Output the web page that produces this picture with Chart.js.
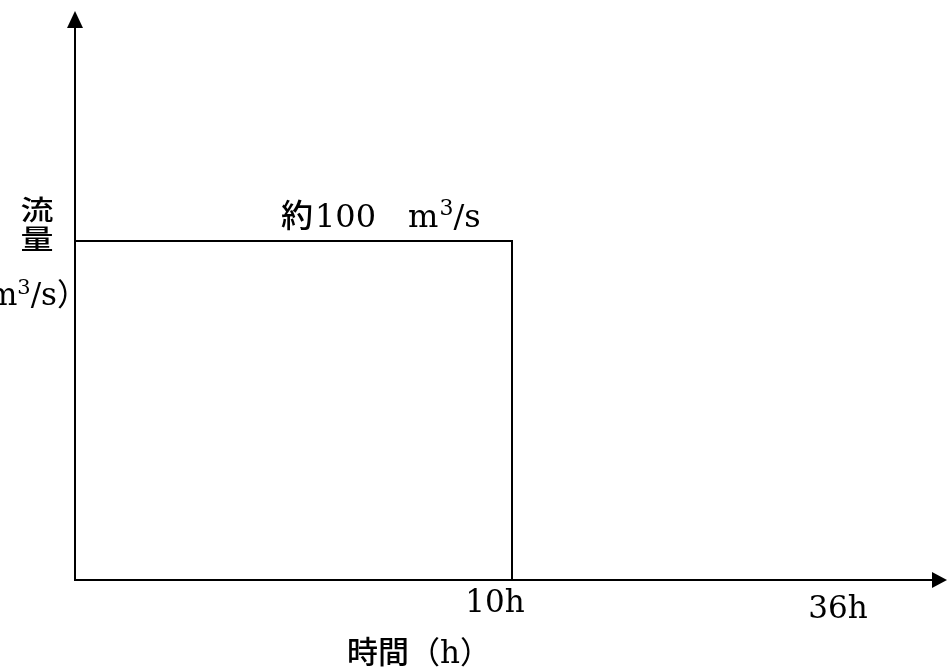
<!DOCTYPE html>
<html>
<head>
<meta charset="utf-8">
<script src="https://cdn.jsdelivr.net/npm/chart.js@4/dist/chart.umd.min.js"></script>
<style>
  html, body { margin: 0; padding: 0; background: #ffffff; }
  #wrap { width: 949px; height: 669px; }
</style>
</head>
<body>
<div id="wrap"><canvas id="c" width="949" height="669"></canvas></div>
<script>
// ---- data (schematic hydrograph) ----
const timeValues = [0, 10, 10];          // hours
const flowValues = [100, 100, 0];        // m3/s
const xTickValues = [10, 17.85];          // schematic positions on the time axis
const xTickLabels = ['10h', '36h'];
const peakLabel = ['約', '100　m', '3', '/s'];
const yTitleLines = ['流', '量'];
const yTitleUnit = ['（', 'm', '3', '/s', '）'];
const xTitle = ['時間', '（', 'h', '）'];
const xMax = 20;
const yMax = 167;

const LAT = "'DejaVu Serif', 'Noto Sans CJK JP', serif";
const CJK = "'Noto Sans CJK JP', sans-serif";

function drawRuns(ctx, runs, x, y, align) {
  // runs: [{t, size, fam, w, dy, kl, kr}]
  const fontOf = r => (r.w ? r.w + ' ' : '') + r.size + 'px ' + r.fam;
  const widths = runs.map(r => {
    ctx.font = fontOf(r);
    return ctx.measureText(r.t).width + (r.kl || 0) + (r.kr || 0);
  });
  const total = widths.reduce((a, b) => a + b, 0);
  let cx = x;
  if (align === 'center') cx = x - total / 2;
  if (align === 'right') cx = x - total;
  runs.forEach((r, i) => {
    ctx.font = fontOf(r);
    ctx.textAlign = 'left';
    ctx.textBaseline = 'alphabetic';
    ctx.fillText(r.t, cx + (r.kl || 0), y + (r.dy || 0));
    cx += widths[i];
  });
}

const annotate = {
  id: 'annotate',
  afterDraw(chart) {
    const ctx = chart.ctx;
    const xs = chart.scales.x, ys = chart.scales.y;
    const x0 = xs.getPixelForValue(0), y0 = ys.getPixelForValue(0);
    ctx.save();
    ctx.strokeStyle = '#000';
    ctx.fillStyle = '#000';
    ctx.lineWidth = 2;
    // y axis with arrow
    ctx.beginPath();
    ctx.moveTo(x0, y0 + 1);
    ctx.lineTo(x0, 26);
    ctx.stroke();
    ctx.beginPath();
    ctx.moveTo(x0, 11);
    ctx.lineTo(x0 - 8, 28);
    ctx.lineTo(x0 + 8, 28);
    ctx.closePath();
    ctx.fill();
    // x axis with arrow
    ctx.beginPath();
    ctx.moveTo(x0 - 1, y0);
    ctx.lineTo(934, y0);
    ctx.stroke();
    ctx.beginPath();
    ctx.moveTo(947, y0);
    ctx.lineTo(932, y0 - 8);
    ctx.lineTo(932, y0 + 8);
    ctx.closePath();
    ctx.fill();

    // tick labels
    const dys = [32, 38];
    xTickLabels.forEach((lab, i) => {
      drawRuns(ctx, [{t: lab, size: 31, fam: LAT}], xs.getPixelForValue(xTickValues[i]) - 17, y0 + dys[i], 'center');
    });
    // peak label
    const py = ys.getPixelForValue(flowValues[0]) - 14;
    drawRuns(ctx, [
      {t: peakLabel[0], size: 32, fam: CJK, w: 500, kl: -1, kr: 2},
      {t: peakLabel[1], size: 32, fam: LAT, kr: 1},
      {t: peakLabel[2], size: 22, fam: LAT, dy: -12},
      {t: peakLabel[3], size: 32, fam: LAT}
    ], 282, py, 'left');
    // y title (glyphs slightly compressed vertically like the reference)
    [[yTitleLines[0], 220], [yTitleLines[1], 249]].forEach(([t, by]) => {
      ctx.save();
      ctx.font = "500 33px " + CJK;
      ctx.textAlign = 'center';
      ctx.textBaseline = 'alphabetic';
      ctx.translate(37, by);
      ctx.scale(1, 0.84);
      ctx.fillText(t, 0, 0);
      ctx.restore();
    });
    drawRuns(ctx, [
      {t: yTitleUnit[0], size: 31, fam: CJK},
      {t: yTitleUnit[1], size: 31, fam: LAT},
      {t: yTitleUnit[2], size: 21, fam: LAT, dy: -11},
      {t: yTitleUnit[3], size: 31, fam: LAT},
      {t: yTitleUnit[4], size: 31, fam: CJK}
    ], 88, 305, 'right');
    // x title
    drawRuns(ctx, [
      {t: xTitle[0], size: 31, fam: CJK, w: 500},
      {t: xTitle[1], size: 31, fam: CJK},
      {t: xTitle[2], size: 31, fam: LAT},
      {t: xTitle[3], size: 31, fam: CJK}
    ], 347, 663, 'left');
    ctx.restore();
  }
};

new Chart(document.getElementById('c'), {
  type: 'line',
  data: {
    datasets: [{
      data: timeValues.map((t, i) => ({x: t, y: flowValues[i]})),
      borderColor: '#000',
      borderWidth: 2,
      pointRadius: 0,
      fill: false,
      tension: 0,
      clip: false
    }]
  },
  options: {
    responsive: false,
    animation: false,
    devicePixelRatio: 1,
    layout: { padding: { left: 75, right: 0, top: 14, bottom: 89 } },
    plugins: { legend: { display: false }, tooltip: { enabled: false } },
    scales: {
      x: { type: 'linear', min: 0, max: xMax, display: false },
      y: { type: 'linear', min: 0, max: yMax, display: false }
    }
  },
  plugins: [annotate]
});
</script>
</body>
</html>
